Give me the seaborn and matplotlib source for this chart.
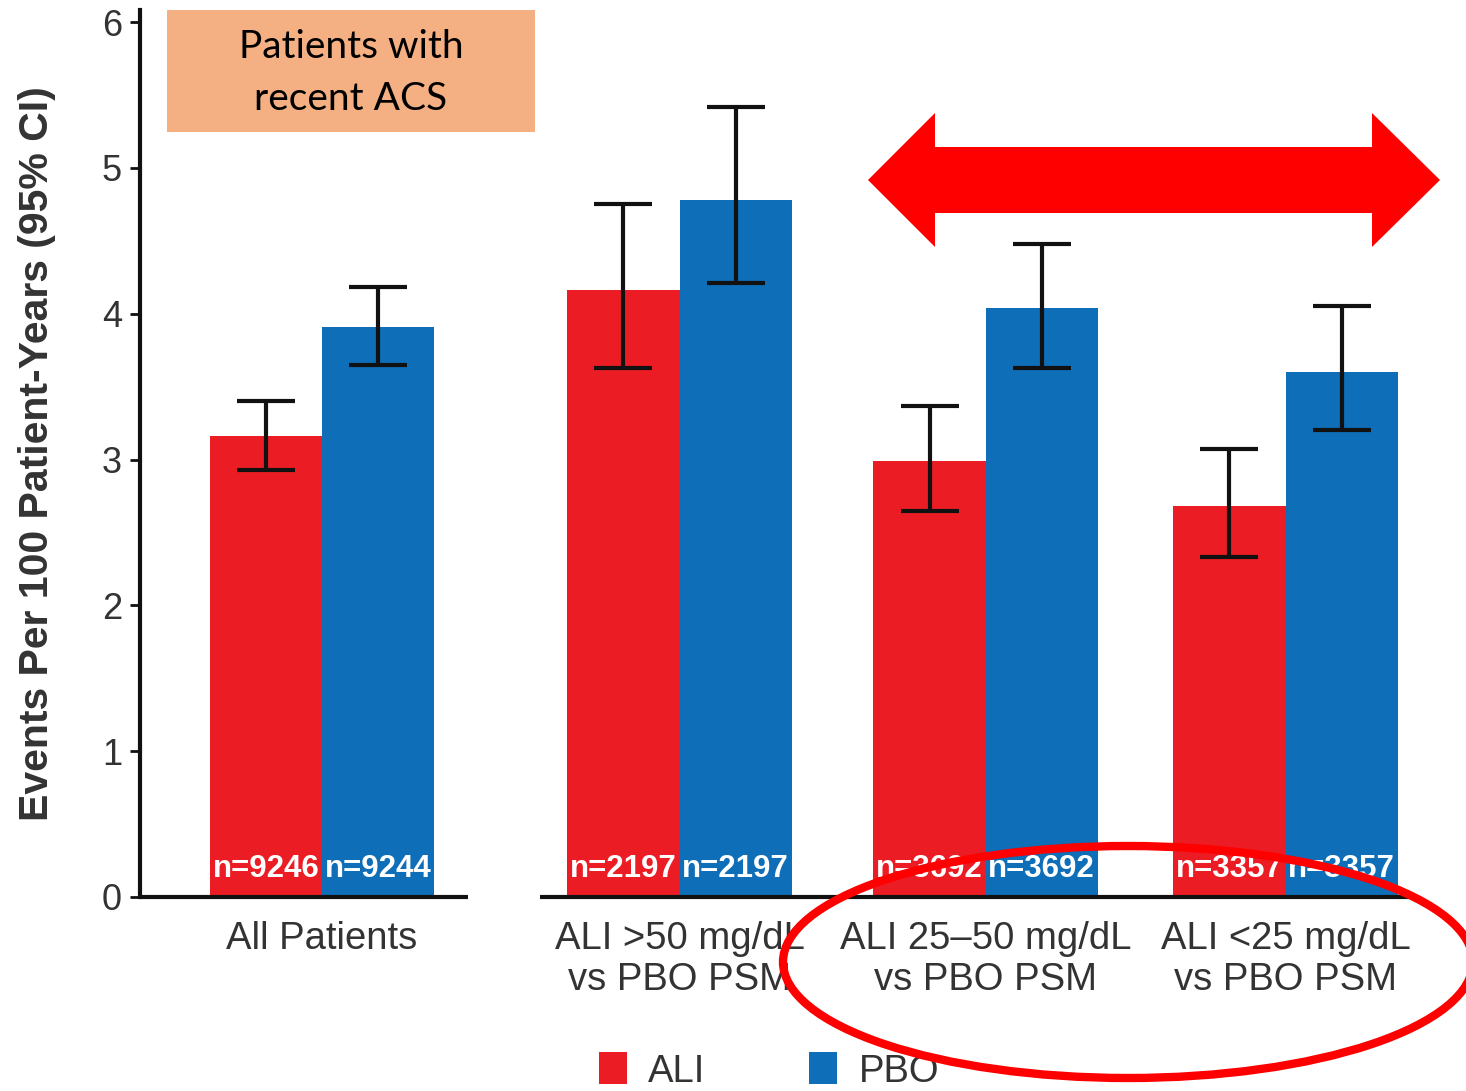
import numpy as np
import pandas as pd
import matplotlib
matplotlib.use("Agg")
import matplotlib.pyplot as plt
from matplotlib.patches import Rectangle, Ellipse, Polygon
import seaborn as sns

# ---------------- data ----------------
groups = ["All Patients", "ALI >50 mg/dL\nvs PBO PSM", "ALI 25\u201350 mg/dL\nvs PBO PSM", "ALI <25 mg/dL\nvs PBO PSM"]
series = ["ALI", "PBO"]
ali_rate = [3.16, 4.16, 2.99, 2.68]
pbo_rate = [3.91, 4.78, 4.04, 3.60]
ali_lo = [2.93, 3.63, 2.65, 2.33]
ali_hi = [3.40, 4.75, 3.37, 3.07]
pbo_lo = [3.65, 4.21, 3.63, 3.20]
pbo_hi = [4.18, 5.42, 4.48, 4.05]
ali_n = ["n=9246", "n=2197", "n=3692", "n=3357"]
pbo_n = ["n=9244", "n=2197", "n=3692", "n=3357"]
yticks = [0, 1, 2, 3, 4, 5, 6]

# ---------------- layout ----------------
group_pos = [0.0, 1.18, 2.19, 3.18]
colors = {"ALI": "#EC1C24", "PBO": "#0E6EB8"}

W, H = 1466, 1091
fig = plt.figure(figsize=(W / 100, H / 100), dpi=100)
sns.set_style("white")
plt.rcParams["font.family"] = ["Liberation Sans", "DejaVu Sans"]

ax = fig.add_axes([140 / W, (H - 897) / H, (W - 140) / W, (897 - 10) / H])

df = pd.DataFrame({
    "pos": group_pos * 2,
    "rate": ali_rate + pbo_rate,
    "series": ["ALI"] * 4 + ["PBO"] * 4,
})
sns.barplot(data=df, x="pos", y="rate", hue="series", hue_order=series,
            palette=colors, native_scale=True, width=0.74 / 0.99,
            errorbar=None, saturation=1, linewidth=0, ax=ax)

ax.set_xlim((140 - 322) / 303, (1466 - 322) / 303)
ax.set_ylim(0, (897 - 10) / 145.83)

# error bars and n labels at bar centres
los = [ali_lo, pbo_lo]
his = [ali_hi, pbo_hi]
rates = [ali_rate, pbo_rate]
ns = [ali_n, pbo_n]
for k, cont in enumerate(ax.containers[:2]):
    xs = [b.get_x() + b.get_width() / 2 for b in cont]
    r = np.array(rates[k])
    lo = np.array(los[k])
    hi = np.array(his[k])
    ax.errorbar(xs, r, yerr=[r - lo, hi - r], fmt="none", ecolor="#111111",
                elinewidth=3, capsize=21, capthick=3, zorder=5)
    for x, t in zip(xs, ns[k]):
        ax.text(x, 0.19, t, ha="center", va="center", color="white",
                fontsize=22.5, fontweight="bold", zorder=6)

# axes styling
for s in ["top", "right", "bottom"]:
    ax.spines[s].set_visible(False)
ax.spines["left"].set_linewidth(3)
ax.spines["left"].set_color("#111111")
ax.set_yticks(yticks)
ax.set_yticklabels([str(t) for t in yticks])
ax.tick_params(axis="y", left=True, length=7, width=2, color="#111111",
               labelsize=26, labelcolor="#333333", pad=6)
ax.set_xticks(group_pos)
ax.set_xticklabels(groups, fontsize=27.5, color="#333333", linespacing=1.18)
ax.tick_params(axis="x", length=0, pad=17)
ax.set_xlabel("")
ax.set_ylabel("Events Per 100 Patient-Years (95% CI)", fontsize=29.5,
              fontweight="bold", color="#333333")
ax.yaxis.set_label_coords(-0.063, 0.5)

# broken x axis
tr = ax.get_xaxis_transform()
ax.plot([(140 - 322) / 303, (468 - 322) / 303], [0, 0], color="#111111", lw=3,
        transform=tr, clip_on=False, solid_capstyle="butt", zorder=7)
ax.plot([(540 - 322) / 303, (1410 - 322) / 303], [0, 0], color="#111111", lw=3,
        transform=tr, clip_on=False, solid_capstyle="butt", zorder=7)

# legend
sns.move_legend(ax, loc="center left", bbox_to_anchor=(572 / W, (H - 1071) / H),
                bbox_transform=fig.transFigure, ncol=2, frameon=False,
                title=None, fontsize=27.5, handlelength=0.75, handleheight=0.9,
                handletextpad=0.55, columnspacing=2.7, labelcolor="#333333",
                borderpad=0.2)

# annotation box
fig.patches.append(Rectangle((167 / W, 1 - 132 / H), (535 - 167) / W, (132 - 10) / H,
                             transform=fig.transFigure, facecolor="#F4AF82",
                             edgecolor="none", zorder=10))
fig.text(351 / W, 1 - 73 / H, "Patients with\nrecent ACS", ha="center", va="center",
         fontsize=28, family=["Lato", "DejaVu Sans"], color="black",
         linespacing=1.55, zorder=11)

# red double arrow
pts_px = [(868, 180), (935, 113), (935, 147), (1372, 147), (1372, 113), (1440, 180),
          (1372, 247), (1372, 213), (935, 213), (935, 247)]
fig.patches.append(Polygon([(x / W, 1 - y / H) for x, y in pts_px], closed=True,
                           transform=fig.transFigure, facecolor="#FF0000",
                           edgecolor="none", zorder=10))

# red ellipse
fig.patches.append(Ellipse((1128 / W, 1 - 962 / H), 690 / W, 232 / H,
                           transform=fig.transFigure, facecolor="none",
                           edgecolor="#FF0000", linewidth=6, zorder=12))

fig.savefig("out.png", dpi=100)
